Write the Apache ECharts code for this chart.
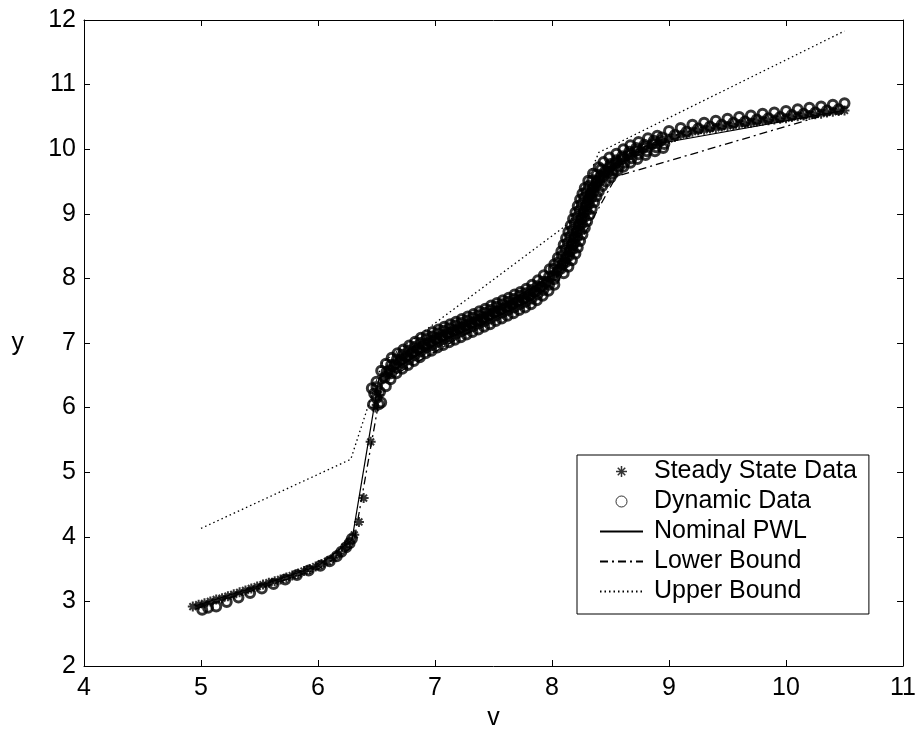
<!DOCTYPE html>
<html>
<head>
<meta charset="utf-8">
<script src="https://cdn.jsdelivr.net/npm/echarts@6/dist/echarts.min.js"></script>
<style>html,body{margin:0;padding:0;background:#fff;}#c{width:919px;height:736px;}</style>
</head>
<body>
<div id="c"></div>
<script>
// ---- tick labels ----
const xTickLabels = [4, 5, 6, 7, 8, 9, 10, 11];
const yTickLabels = [2, 3, 4, 5, 6, 7, 8, 9, 10, 11, 12];
const xAxisName = 'v';
const yAxisName = 'y';
const seriesNames = ['Steady State Data', 'Dynamic Data', 'Nominal PWL', 'Lower Bound', 'Upper Bound'];

// ---- Steady State Data (asterisks) ----
const steadyLeft = [[4.93,2.92],[4.98,2.95],[5.03,2.97],[5.08,3.00],[5.13,3.03],[5.18,3.05],[5.23,3.08],[5.28,3.11],[5.33,3.14],[5.38,3.17],[5.43,3.20],[5.48,3.23],[5.53,3.26],[5.58,3.29],[5.63,3.31],[5.68,3.34],[5.73,3.37],[5.78,3.40],[5.83,3.43],[5.88,3.47],[5.93,3.50],[5.98,3.54],[6.03,3.58],[6.08,3.62],[6.13,3.67],[6.18,3.74],[6.23,3.84],[6.27,3.93],[6.31,4.03]];
const steadySteep = [[6.35,4.23],[6.39,4.60],[6.45,5.47],[6.49,6.00]];
const steadyBand = [[6.52,6.2],[6.56,6.45],[6.6,6.56],[6.65,6.65],[6.7,6.72],[6.75,6.78],[6.8,6.84],[6.85,6.9],[6.9,6.96],[6.95,7.0],[7.0,7.05],[7.05,7.09],[7.1,7.13],[7.15,7.17],[7.2,7.21],[7.25,7.25],[7.3,7.29],[7.35,7.33],[7.4,7.37],[7.45,7.41],[7.5,7.46],[7.55,7.5],[7.6,7.54],[7.65,7.58],[7.7,7.63],[7.75,7.67],[7.8,7.72],[7.85,7.78],[7.9,7.85],[7.95,7.93],[8.0,8.02],[8.04,8.1],[8.08,8.2],[8.11,8.3],[8.14,8.4],[8.16,8.5],[8.18,8.6],[8.2,8.7],[8.22,8.8],[8.24,8.9],[8.26,9.0],[8.28,9.1],[8.3,9.2],[8.32,9.29],[8.34,9.38],[8.37,9.47],[8.4,9.55],[8.44,9.63],[8.48,9.7],[8.53,9.76],[8.58,9.82],[8.64,9.89],[8.7,9.95],[8.77,10.0],[8.85,10.06],[8.92,10.11]];
const steadyRight = [[9.0,10.16],[9.05,10.19],[9.1,10.22],[9.15,10.24],[9.2,10.27],[9.25,10.29],[9.3,10.3],[9.35,10.32],[9.4,10.33],[9.45,10.35],[9.5,10.36],[9.55,10.37],[9.6,10.39],[9.65,10.4],[9.7,10.41],[9.75,10.43],[9.8,10.44],[9.85,10.45],[9.9,10.46],[9.95,10.47],[10.0,10.48],[10.05,10.5],[10.1,10.51],[10.15,10.52],[10.2,10.53],[10.25,10.54],[10.3,10.55],[10.35,10.57],[10.4,10.58],[10.45,10.59],[10.5,10.6]];

// ---- Dynamic Data (circles) ----
const dynamicLeft = [[5.01,2.87],[5.06,2.9],[5.13,2.92],[5.22,2.99],[5.32,3.06],[5.42,3.13],[5.52,3.2],[5.62,3.27],[5.72,3.34],[5.82,3.41],[5.92,3.48],[6.02,3.55],[6.1,3.62],[6.16,3.7],[6.2,3.77],[6.24,3.84],[6.27,3.9],[6.29,3.97]];
const dynamicJump = [[6.47,6.05],[6.48,6.22],[6.5,6.15],[6.5,6.4],[6.52,6.05],[6.46,6.3]];
const dynamicUpper = [[6.50,6.32],[6.54,6.57],[6.58,6.68],[6.63,6.77],[6.68,6.84],[6.73,6.90],[6.78,6.96],[6.83,7.02],[6.88,7.08],[6.93,7.12],[6.98,7.17],[7.03,7.21],[7.08,7.25],[7.13,7.29],[7.18,7.33],[7.23,7.37],[7.28,7.41],[7.33,7.45],[7.38,7.49],[7.43,7.53],[7.48,7.58],[7.53,7.62],[7.58,7.66],[7.63,7.70],[7.68,7.75],[7.73,7.79],[7.78,7.84],[7.83,7.90],[7.88,7.97],[7.93,8.05],[7.98,8.14],[8.02,8.22],[8.05,8.32],[8.08,8.42],[8.10,8.52],[8.12,8.62],[8.14,8.72],[8.16,8.82],[8.18,8.92],[8.20,9.02],[8.22,9.12],[8.24,9.22],[8.26,9.31],[8.28,9.40],[8.31,9.51],[8.35,9.62],[8.40,9.72],[8.44,9.80],[8.49,9.87],[8.55,9.93],[8.61,10.0],[8.67,10.06],[8.74,10.11],[8.82,10.17],[8.90,10.21]];
const dynamicUpperMid = [[6.585,6.55],[6.625,6.66],[6.675,6.75],[6.725,6.82],[6.775,6.88],[6.825,6.94],[6.875,7.0],[6.925,7.06],[6.975,7.1],[7.025,7.15],[7.075,7.19],[7.125,7.23],[7.175,7.27],[7.225,7.31],[7.275,7.35],[7.325,7.39],[7.375,7.43],[7.425,7.47],[7.475,7.51],[7.525,7.56],[7.575,7.6],[7.625,7.64],[7.675,7.68],[7.725,7.73],[7.775,7.77],[7.825,7.82],[7.875,7.88],[7.925,7.95],[7.975,8.03],[8.015,8.15],[8.055,8.25],[8.085,8.35],[8.115,8.45],[8.135,8.55],[8.155,8.65],[8.175,8.75],[8.195,8.85],[8.215,8.95],[8.235,9.05],[8.255,9.15],[8.275,9.25],[8.295,9.34],[8.315,9.43],[8.345,9.52],[8.38,9.61],[8.42,9.69],[8.5,9.77],[8.55,9.83],[8.6,9.89],[8.66,9.96],[8.72,10.02],[8.79,10.07],[8.87,10.13],[8.94,10.18]];
const dynamicMid = [[6.53,6.24],[6.57,6.47],[6.61,6.58],[6.66,6.67],[6.71,6.74],[6.76,6.8],[6.81,6.86],[6.86,6.92],[6.91,6.98],[6.96,7.02],[7.01,7.07],[7.06,7.11],[7.11,7.15],[7.16,7.19],[7.21,7.23],[7.26,7.27],[7.31,7.31],[7.36,7.35],[7.41,7.39],[7.46,7.43],[7.51,7.48],[7.56,7.52],[7.61,7.56],[7.66,7.6],[7.71,7.65],[7.76,7.69],[7.81,7.74],[7.86,7.8],[7.91,7.87],[7.96,7.95],[8.01,8.04],[8.05,8.12],[8.09,8.22],[8.12,8.32],[8.15,8.42],[8.17,8.52],[8.19,8.62],[8.21,8.72],[8.23,8.82],[8.25,8.92],[8.27,9.02],[8.29,9.12],[8.31,9.22],[8.33,9.31],[8.35,9.4],[8.38,9.49],[8.41,9.57],[8.45,9.65],[8.49,9.72],[8.54,9.78],[8.59,9.84],[8.65,9.91],[8.71,9.97],[8.78,10.02],[8.86,10.08],[8.93,10.13]];
const dynamicLowerMid = [[6.625,6.53],[6.675,6.62],[6.725,6.69],[6.775,6.75],[6.825,6.81],[6.875,6.87],[6.925,6.93],[6.975,6.97],[7.025,7.02],[7.075,7.06],[7.125,7.1],[7.175,7.14],[7.225,7.18],[7.275,7.22],[7.325,7.26],[7.375,7.3],[7.425,7.34],[7.475,7.38],[7.525,7.43],[7.575,7.47],[7.625,7.51],[7.675,7.55],[7.725,7.6],[7.775,7.64],[7.825,7.69],[7.875,7.75],[7.925,7.82],[7.975,7.9],[8.02,7.99],[8.075,8.15],[8.115,8.25],[8.145,8.35],[8.175,8.45],[8.195,8.55],[8.215,8.65],[8.235,8.75],[8.255,8.85],[8.275,8.95],[8.295,9.05],[8.315,9.15],[8.335,9.25],[8.355,9.34],[8.375,9.43],[8.405,9.51],[8.44,9.58],[8.48,9.65],[8.52,9.67],[8.57,9.73],[8.62,9.79],[8.68,9.86],[8.74,9.92],[8.81,9.97],[8.89,10.03],[8.96,10.08]];
const dynamicLower = [[6.54,6.08],[6.58,6.33],[6.62,6.44],[6.67,6.53],[6.72,6.60],[6.77,6.66],[6.82,6.72],[6.87,6.78],[6.92,6.84],[6.97,6.88],[7.02,6.93],[7.07,6.97],[7.12,7.01],[7.17,7.05],[7.22,7.09],[7.27,7.13],[7.32,7.17],[7.37,7.21],[7.42,7.25],[7.47,7.29],[7.52,7.34],[7.57,7.38],[7.62,7.42],[7.67,7.46],[7.72,7.51],[7.77,7.55],[7.82,7.60],[7.87,7.66],[7.92,7.73],[7.97,7.81],[8.02,7.90],[8.10,8.08],[8.14,8.18],[8.17,8.28],[8.20,8.38],[8.22,8.48],[8.24,8.58],[8.26,8.68],[8.28,8.78],[8.30,8.88],[8.32,8.98],[8.34,9.08],[8.36,9.18],[8.38,9.27],[8.40,9.35],[8.43,9.43],[8.46,9.5],[8.50,9.56],[8.52,9.62],[8.56,9.67],[8.61,9.73],[8.67,9.79],[8.73,9.85],[8.80,9.91],[8.88,9.97],[8.95,10.02]];
const dynamicRight = [[9.0,10.28],[9.05,10.22],[9.1,10.33],[9.15,10.27],[9.2,10.38],[9.25,10.32],[9.3,10.41],[9.35,10.35],[9.4,10.44],[9.45,10.38],[9.5,10.47],[9.55,10.41],[9.6,10.5],[9.65,10.43],[9.7,10.52],[9.75,10.46],[9.8,10.55],[9.85,10.48],[9.9,10.57],[9.95,10.5],[10.0,10.59],[10.05,10.53],[10.1,10.62],[10.15,10.55],[10.2,10.64],[10.25,10.57],[10.3,10.66],[10.35,10.6],[10.4,10.69],[10.45,10.62],[10.5,10.71]];

// ---- Lines ----
const nominalPWL = [[4.95,2.93],[5.6,3.3],[6.0,3.55],[6.29,3.95],[6.52,6.45],[8.1,8.15],[8.4,9.55],[8.8,10.05],[10.5,10.6]];
const lowerBound = [[4.95,2.88],[5.6,3.26],[6.0,3.5],[6.3,3.85],[6.55,6.4],[8.05,7.95],[8.55,9.58],[10.5,10.62]];
const upperBound = [[5.0,4.13],[6.28,5.2],[6.55,6.7],[8.15,8.86],[8.4,9.95],[10.5,11.83]];

const steadyData = steadyLeft.concat(steadySteep, steadyBand, steadyRight);
const dynamicData = dynamicLeft.concat(dynamicJump, dynamicUpper, dynamicUpperMid, dynamicMid, dynamicLowerMid, dynamicLower, dynamicRight);

const FONT = '"Liberation Sans", Arial, sans-serif';
const starPath = 'path://M5,0L5,10M0,5L10,5M1.6,1.6L8.4,8.4M1.6,8.4L8.4,1.6';

const xMin = xTickLabels[0], xMax = xTickLabels[xTickLabels.length - 1];
const yMin = yTickLabels[0], yMax = yTickLabels[yTickLabels.length - 1];

function axisBase(pos, isX, showLabel) {
  return {
    type: 'value', position: pos,
    min: isX ? xMin : yMin, max: isX ? xMax : yMax, interval: 1,
    axisLine: { show: true, onZero: false, lineStyle: { color: '#000', width: 1 } },
    axisTick: { show: true, inside: true, length: 6, lineStyle: { color: '#000', width: 1 } },
    axisLabel: { show: showLabel, color: '#000', fontFamily: FONT, fontSize: 25, margin: isX ? 10 : 8 },
    splitLine: { show: false }
  };
}

const xb = axisBase('bottom', true, true);
xb.name = xAxisName; xb.nameLocation = 'middle'; xb.nameGap = 37;
xb.nameTextStyle = { color: '#000', fontFamily: FONT, fontSize: 25 };
const yl = axisBase('left', false, true);
yl.name = yAxisName; yl.nameLocation = 'middle'; yl.nameGap = 60; yl.nameRotate = 0;
yl.nameTextStyle = { color: '#000', fontFamily: FONT, fontSize: 25 };
const xt = axisBase('top', true, false);
const yr = axisBase('right', false, false);

const hideSym = { opacity: 0 };

const chart = echarts.init(document.getElementById('c'), null, { renderer: 'canvas' });
chart.setOption({
  animation: false,
  backgroundColor: '#fff',
  grid: { left: 84, top: 20, right: 12, bottom: 70, containLabel: false },
  xAxis: [xb, xt],
  yAxis: [yl, yr],
  legend: {
    orient: 'vertical', left: 577, top: 455,
    data: [
      { name: seriesNames[0], itemStyle: { borderWidth: 1.5 } },
      { name: seriesNames[1], itemStyle: { borderWidth: 1, borderColor: '#000', color: 'none' } },
      { name: seriesNames[2], itemStyle: hideSym },
      { name: seriesNames[3], itemStyle: hideSym },
      { name: seriesNames[4], itemStyle: hideSym }
    ],
    itemStyle: { borderWidth: 1 },
    backgroundColor: '#fff', borderColor: '#000', borderWidth: 1, borderRadius: 0,
    padding: [4, 12, 10, 22],
    itemWidth: 43, itemHeight: 11, itemGap: 5,
    textStyle: { color: '#000', fontFamily: FONT, fontSize: 25, padding: [0, 0, 0, 6] }
  },
  series: [
    { name: seriesNames[0], type: 'scatter', data: steadyData, symbol: starPath, symbolSize: 10,
      itemStyle: { color: '#000', borderColor: '#000', borderWidth: 2 }, z: 2 },
    { name: seriesNames[1], type: 'scatter', data: dynamicData, symbol: 'circle', symbolSize: 9,
      itemStyle: { color: 'none', borderColor: '#000', borderWidth: 3 },
      emphasis: { disabled: true }, z: 3 },
    { name: seriesNames[2], type: 'line', data: nominalPWL, symbol: 'none', z: 4,
      itemStyle: { color: '#000' },
      lineStyle: { color: '#000', width: 1.2, type: 'solid' } },
    { name: seriesNames[3], type: 'line', data: lowerBound, symbol: 'none', z: 4,
      itemStyle: { color: '#000' },
      lineStyle: { color: '#000', width: 1.3, type: [8, 4, 2, 4] } },
    { name: seriesNames[4], type: 'line', data: upperBound, symbol: 'none', z: 4,
      itemStyle: { color: '#000' },
      lineStyle: { color: '#000', width: 1.3, type: [1.5, 3] } }
  ]
});
</script>
</body>
</html>
